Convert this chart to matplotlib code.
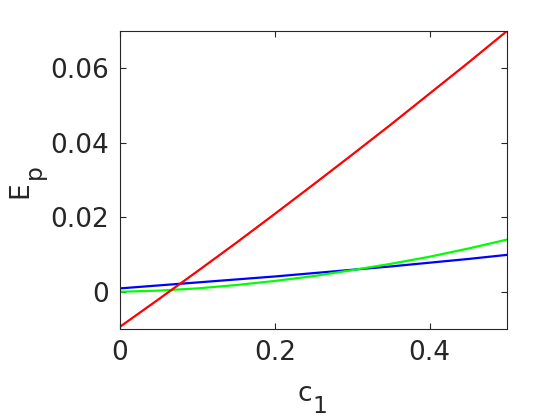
import numpy as np
import matplotlib
matplotlib.use("Agg")
import matplotlib.pyplot as plt

c1 = [0.0, 0.05, 0.10, 0.15, 0.20, 0.25, 0.30, 0.35, 0.40, 0.45, 0.50]
ep_red = [-0.0094, -0.0020, 0.0055, 0.0131, 0.0209, 0.0288, 0.0368, 0.0449, 0.0532, 0.0615, 0.0700]
ep_green = [0.0000, 0.0003, 0.0009, 0.0018, 0.0029, 0.0042, 0.0058, 0.0075, 0.0094, 0.0116, 0.0140]
ep_blue = [0.0009, 0.0017, 0.0025, 0.0033, 0.0041, 0.0050, 0.0059, 0.0068, 0.0078, 0.0088, 0.0099]

xticks = [0, 0.2, 0.4]
xticklabels = ["0", "0.2", "0.4"]
yticks = [0, 0.02, 0.04, 0.06]
yticklabels = ["0", "0.02", "0.04", "0.06"]

plt.rcParams['font.family'] = ['DejaVu Sans']
tc = '#262626'
W, H = 560, 420

fig = plt.figure(figsize=(5.6, 4.2), dpi=100)
ax = fig.add_axes([120/W, 1 - 329/H, (507-120)/W, (329-31)/H])

ax.plot(c1, ep_blue, color='#0000ff', lw=1.6)
ax.plot(c1, ep_green, color='#00ff00', lw=1.6)
ax.plot(c1, ep_red, color='#ff0000', lw=1.6)

ax.set_xlim(0, 0.5)
ax.set_ylim(-0.01, 0.07)
ax.set_xticks(xticks)
ax.set_xticklabels(xticklabels)
ax.set_yticks(yticks)
ax.set_yticklabels(yticklabels)
ax.tick_params(direction='in', length=4, width=0.8, colors=tc, labelcolor=tc,
               labelsize=19, top=True, right=True, pad=8)
for s in ax.spines.values():
    s.set_color(tc)
    s.set_linewidth(0.8)

def ftext(x, y, s, size, rot=0):
    fig.text(x / W, 1 - y / H, s, fontsize=size, color=tc, ha='left',
             va='baseline', rotation=rot, rotation_mode='anchor')

# x label: c_1
ftext(297.5, 401, 'c', 19)
ftext(312, 413, '1', 16.8)
# y label: E_p
ftext(27, 198, 'E', 19, rot=90)
ftext(40.5, 179, 'p', 16.8, rot=90)

fig.savefig('out.png', dpi=100)
